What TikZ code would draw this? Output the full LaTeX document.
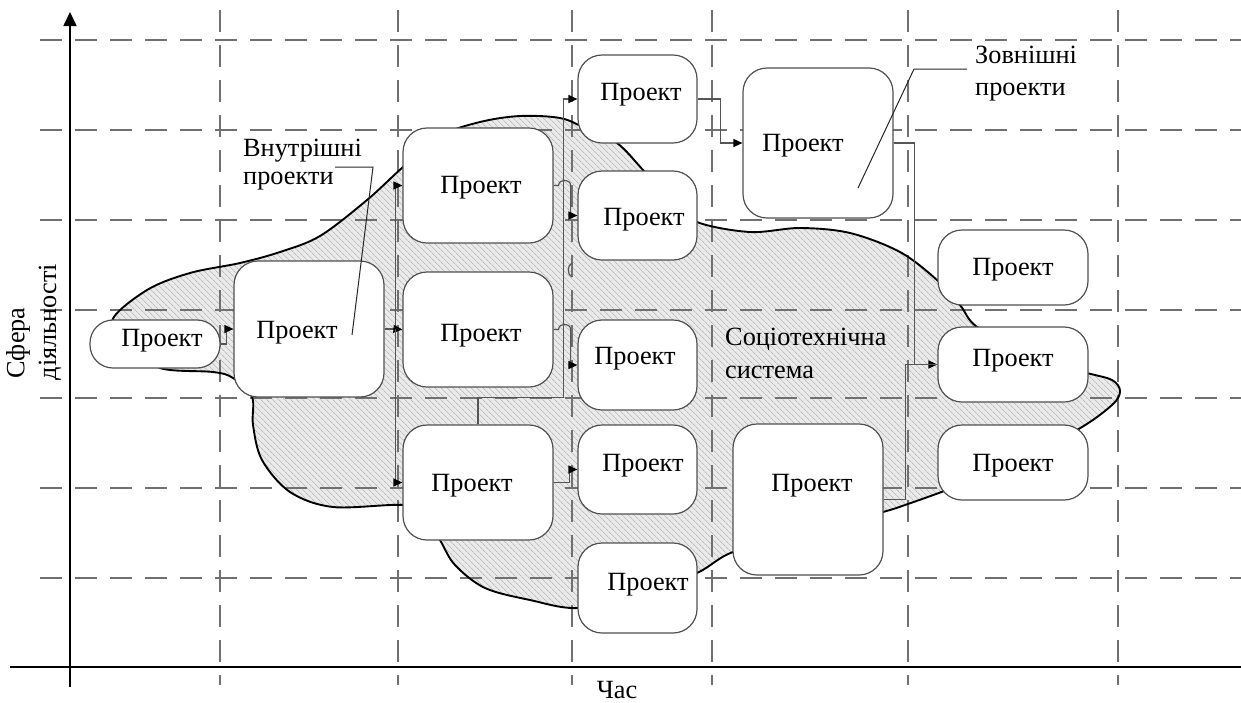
\documentclass[tikz,border=0pt]{standalone}
\usepackage{fontspec}
\setmainfont{Liberation Serif}
\usetikzlibrary{arrows.meta,patterns.meta}
\definecolor{gridc}{RGB}{112,112,112}
\definecolor{boxc}{RGB}{80,80,80}
\definecolor{linec}{RGB}{85,85,85}
\definecolor{blobfill}{RGB}{234,234,234}
\definecolor{hatchc}{RGB}{165,165,165}
% outline of the socio-technical system region
\newcommand\blobshape{plot[smooth cycle, tension=0.55] coordinates {
 (135,345) (112,321) (147,290) (190,273) (240,263) (280,252) (320,236) (367,200) (403,167)
 (440,136) (480,122) (520,116) (560,118) (585,128) (617,143) (643,170) (670,200)
 (697,222) (750,232) (800,228) (850,233) (900,252) (937,280) (960,305) (977,327)
 (1030,358) (1087,373) (1112,380) (1120,391) (1112,405) (1077,430) (1000,470)
 (947,490) (905,505) (883,512) (800,535) (733,552) (697,573) (640,595) (578,608)
 (530,600) (485,588) (455,565) (440,540) (425,515) (403,505) (333,507) (290,492)
 (262,460) (253,425) (252,397) (233,378) (213,372) (160,368)}}
\begin{document}
\begin{tikzpicture}[x=1pt,y=-1pt,
  gridline/.style={gridc, line width=1.4pt, dash pattern=on 22pt off 13pt},
  box/.style={draw=boxc, line width=1.2pt, fill=white, rounded corners=24pt, inner sep=0pt},
  lbl/.style={font=\fontsize{26.3}{31}\selectfont, inner sep=0pt},
  conn/.style={linec, line width=1.2pt},
  arr/.style={-{Triangle[length=9pt,width=8pt,color=black]}},
  leader/.style={black!85, line width=1pt},
  ]
\useasboundingbox (0,0) rectangle (1241,702);

% hatched region
\path[fill=blobfill, postaction={pattern={Lines[angle=-45,distance=4pt,line width=0.5pt]}, pattern color=hatchc}] \blobshape;

% grid: horizontal lines
\draw[gridline] (40,40) -- (1241,40);
\draw[gridline] (40,130) -- (1241,130);
\draw[gridline] (40,220) -- (1241,220);
\draw[gridline] (40,310) -- (1241,310);
\draw[gridline] (40,398) -- (1241,398);
\draw[gridline] (40,488) -- (1241,488);
\draw[gridline] (40,578) -- (1241,578);
% grid: vertical lines
\draw[gridline] (220,10) -- (220,685);
\draw[gridline] (398,10) -- (398,685);
\draw[gridline] (572,10) -- (572,685);
\draw[gridline] (712,10) -- (712,685);
\draw[gridline] (908,10) -- (908,685);
\draw[gridline] (1118,10) -- (1118,685);

% outline of the region
\draw[black, line width=1.9pt] \blobshape;

% project boxes
\node[box, rounded corners=23pt, minimum width=130pt, minimum height=48pt] (b1) at (155,344) {};
\node[box, minimum width=150pt, minimum height=136pt] (b2) at (309,329) {};
\node[box, minimum width=150pt, minimum height=115pt] (b3) at (478,185.5) {};
\node[box, minimum width=150pt, minimum height=115pt] (b4) at (478,329.5) {};
\node[box, minimum width=150pt, minimum height=115pt] (b5) at (478,482.5) {};
\node[box, minimum width=119pt, minimum height=88pt] (b6) at (637.5,99) {};
\node[box, minimum width=119pt, minimum height=89pt] (b7) at (637.5,215.5) {};
\node[box, minimum width=119pt, minimum height=90pt] (b8) at (637.5,365) {};
\node[box, minimum width=119pt, minimum height=89pt] (b9) at (637.5,469.5) {};
\node[box, minimum width=119pt, minimum height=90pt] (b10) at (637.5,588) {};
\node[box, minimum width=150pt, minimum height=150pt] (b11) at (818,143) {};
\node[box, minimum width=150pt, minimum height=151pt] (b12) at (808,499.5) {};
\node[box, minimum width=150pt, minimum height=75pt] (b13) at (1013,267.5) {};
\node[box, minimum width=150pt, minimum height=75pt] (b14) at (1013,364.5) {};
\node[box, minimum width=150pt, minimum height=75pt] (b15) at (1013,462.5) {};

% box texts
\node[lbl] (t1) at (162,341) {Проект};
\node[lbl] (t2) at (297,333) {Проект};
\node[lbl] (t3) at (481,188) {Проект};
\node[lbl] (t4) at (481,336) {Проект};
\node[lbl] (t5) at (472,486) {Проект};
\node[lbl] (t6) at (641,95) {Проект};
\node[lbl] (t7) at (644,220) {Проект};
\node[lbl] (t8) at (635,359) {Проект};
\node[lbl] (t9) at (643,466) {Проект};
\node[lbl] (t10) at (648,585) {Проект};
\node[lbl] (t11) at (803,146) {Проект};
\node[lbl] (t12) at (812,486) {Проект};
\node[lbl] (t13) at (1013,270) {Проект};
\node[lbl] (t14) at (1013,361) {Проект};
\node[lbl] (t15) at (1013,466) {Проект};

% connectors
\draw[conn,arr] (b1.east) -- ++(6,0) |- (b2.west);
\draw[conn] (b2.east) -- ++(11,0) coordinate (j1);
\draw[conn] (j1 |- b3.west) -- (j1 |- b5.west);
\draw[conn,arr] (j1) |- (b3.west);
\draw[conn,arr] (j1) -- (b4.west);
\draw[conn,arr] (j1) |- (b5.west);
\draw[conn,arr] (b5.north) -- ++(0,-27) -| ([xshift=-14pt]b6.west) -- (b6.west);
\draw[conn,arr] (b3.east) -- ++(5,0) .. controls +(0,-7) and +(0,-7) .. ++(12,0) |- (b7.west);
\draw[conn,arr] (b4.east) -- ++(5,0) .. controls +(0,-7) and +(0,-7) .. ++(12,0) |- (b8.west);
\draw[conn,arr] (b5.east) -- ++(16,0) |- (b9.west);
\draw[conn] (572,263) .. controls (567,265) and (567,275) .. (572,277);
\draw[conn,arr] (b6.east) -- ++(23,0) |- (b11.west);
\draw[conn,arr] (b11.east) -- ++(21,0) |- (b14.west);
\draw[conn] (b12.east) -- ++(22,0) |- (b14.west);

% annotations
\node[lbl, anchor=base west] (in1) at (243,156) {Внутрішні};
\node[lbl, anchor=base west] (in2) at (243,184) {проекти};
\coordinate (li1) at (335,167);
\coordinate (li2) at (352,335);
\draw[leader] (li1) -- (373,167) -- (li2);

\node[lbl, anchor=base west] (ex1) at (975,63) {Зовнішні};
\node[lbl, anchor=base west] (ex2) at (975,95) {проекти};
\coordinate (le1) at (967,69);
\coordinate (le2) at (858,188);
\draw[leader] (le1) -- (914,69) -- (le2);

\node[lbl, anchor=base west] (st1) at (725,345) {Соціотехнічна};
\node[lbl, anchor=base west] (st2) at (725,378) {система};

% axes
\coordinate (xo) at (10,667);
\coordinate (xe) at (1241,667);
\coordinate (yo) at (70,687);
\coordinate (ye) at (70,12);
\draw[black, line width=2pt] (xo) -- (xe);
\draw[black, line width=1.6pt, -{Triangle[length=14pt,width=13pt]}] (yo) -- (ye);
\node[lbl, rotate=90] (ya) at (18,343) {Сфера};
\node[lbl, rotate=90] (yb) at (50,322) {діяльності};
\node[lbl] (xa) at (617,690) {Час};
\end{tikzpicture}
\end{document}
